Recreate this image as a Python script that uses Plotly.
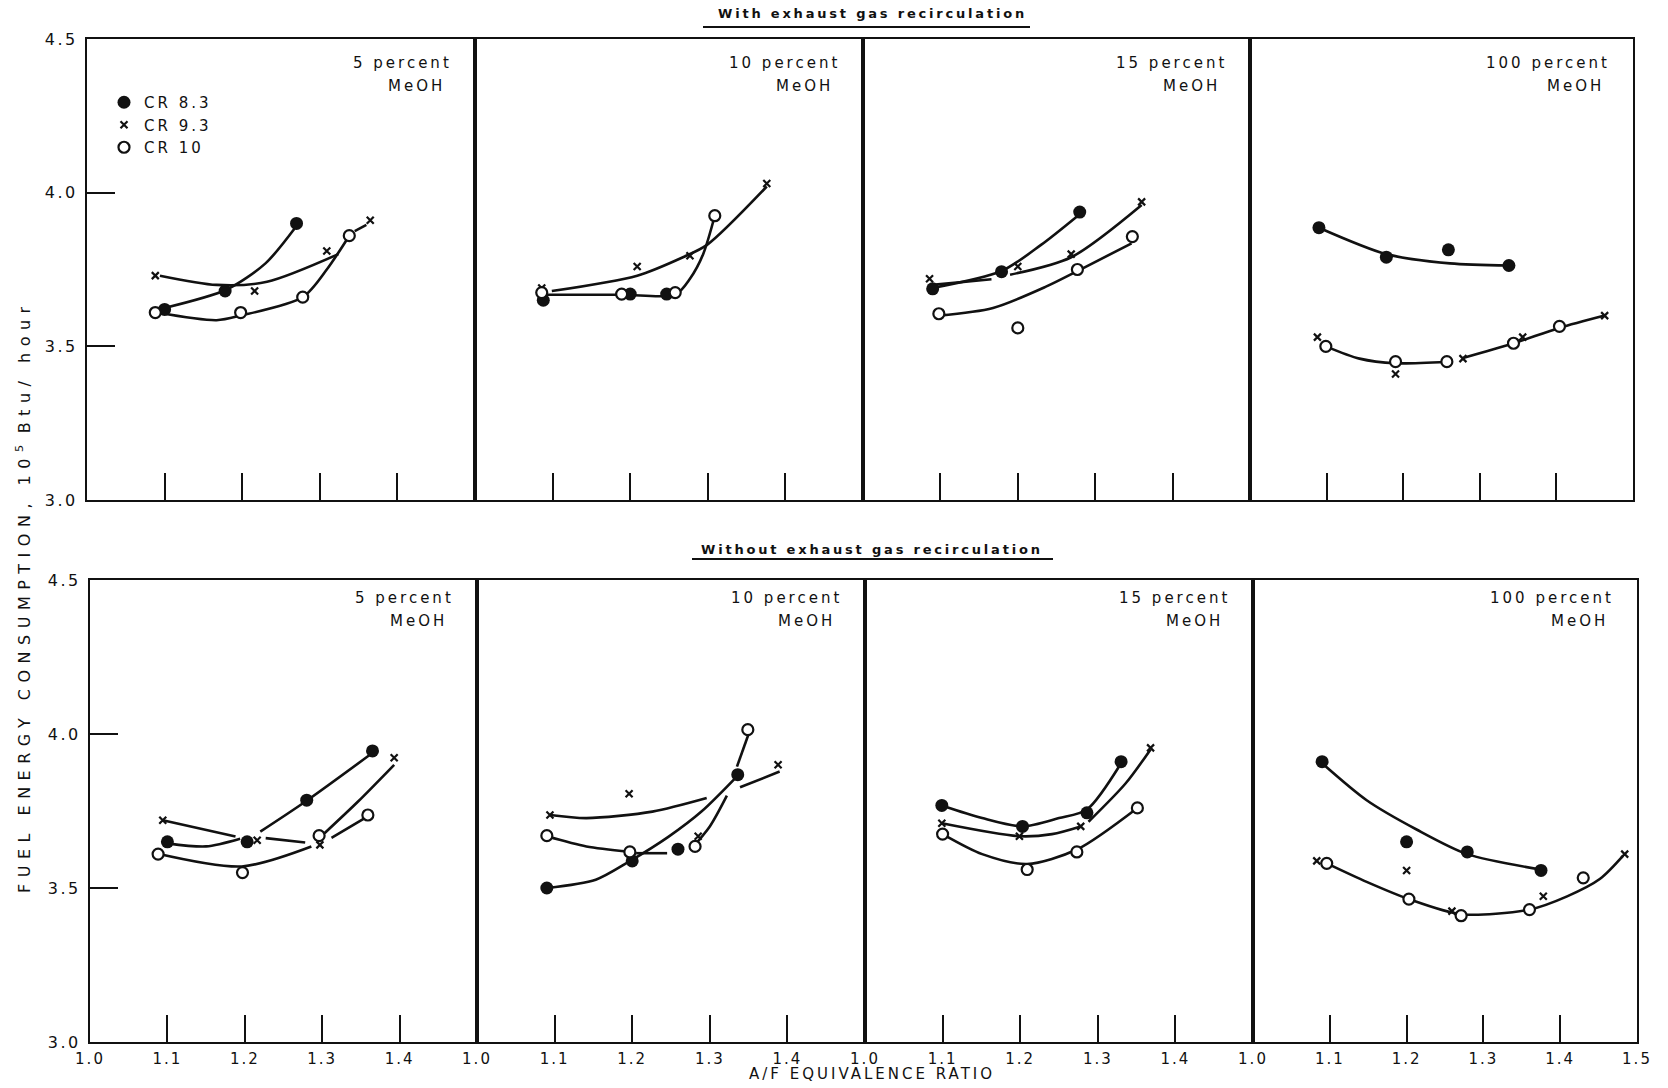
import plotly.graph_objects as go

# ------------------------------------------------------------------ data
PANEL_LABELS = ["5 percent", "10 percent", "15 percent", "100 percent"]
FUEL_LABEL = "MeOH"
SERIES_NAMES = ["CR 8.3", "CR 9.3", "CR 10"]
ROW_TITLES = ["With exhaust gas recirculation", "Without exhaust gas recirculation"]
X_TICKS = [1.0, 1.1, 1.2, 1.3, 1.4, 1.5]
X_TICK_TEXT = ["1.0", "1.1", "1.2", "1.3", "1.4", "1.5"]
Y_TICKS = [3.0, 3.5, 4.0, 4.5]
Y_TICK_TEXT = ["3.0", "3.5", "4.0", "4.5"]
X_TITLE = "A/F EQUIVALENCE RATIO"
Y_TITLE_A = "FUEL ENERGY CONSUMPTION, 10"
Y_TITLE_SUP = "5"
Y_TITLE_B = "Btu/ hour"

# ---- With exhaust gas recirculation -------------------------------------
# 5 percent MeOH : measured points and faired curves (x = A/F ratio, y = 1e5 Btu/h)
EGR5_CR83 = ([1.10, 1.178, 1.27], [3.62, 3.68, 3.90])
EGR5_CR93 = ([1.088, 1.216, 1.309, 1.365], [3.73, 3.68, 3.81, 3.91])
EGR5_CR10 = ([1.088, 1.198, 1.278, 1.338], [3.61, 3.61, 3.66, 3.86])
EGR5_CR83_FIT = ([1.10, 1.18, 1.23, 1.268], [3.625, 3.685, 3.77, 3.885])
EGR5_CR93_FIT = ([1.094, 1.167, 1.232, 1.324], [3.73, 3.70, 3.71, 3.80])
EGR5_CR10_FIT = ([1.09, 1.167, 1.198, 1.278, 1.309, 1.338, None, 1.345, 1.36],
                 [3.61, 3.585, 3.60, 3.66, 3.75, 3.86, None, 3.875, 3.895])

# 10 percent MeOH
EGR10_CR83 = ([1.088, 1.20, 1.247], [3.65, 3.67, 3.67])
EGR10_CR93 = ([1.086, 1.209, 1.277, 1.376], [3.69, 3.76, 3.795, 4.03])
EGR10_CR10 = ([1.086, 1.189, 1.258, 1.309], [3.675, 3.67, 3.675, 3.925])
EGR10_CR83_FIT = ([], [])
EGR10_CR93_FIT = ([1.099, 1.209, 1.268, 1.299, 1.376], [3.68, 3.73, 3.79, 3.83, 4.02])
EGR10_CR10_FIT = ([1.086, 1.19, 1.258, 1.277, 1.294, 1.309],
                  [3.668, 3.668, 3.668, 3.72, 3.80, 3.925])

# 15 percent MeOH
EGR15_CR83 = ([1.09, 1.179, 1.28], [3.687, 3.743, 3.937])
EGR15_CR93 = ([1.086, 1.20, 1.269, 1.36], [3.72, 3.76, 3.80, 3.97])
EGR15_CR10 = ([1.098, 1.20, 1.277, 1.348], [3.606, 3.56, 3.75, 3.857])
EGR15_CR83_FIT = ([1.09, 1.179, 1.23, 1.28], [3.69, 3.745, 3.83, 3.93])
EGR15_CR93_FIT = ([1.09, 1.166, None, 1.19, 1.269, 1.36], [3.70, 3.718, None, 3.733, 3.79, 3.96])
EGR15_CR10_FIT = ([1.098, 1.168, 1.237, 1.277, 1.347], [3.60, 3.625, 3.695, 3.745, 3.835])

# 100 percent MeOH
EGR100_CR83 = ([1.09, 1.178, 1.259, 1.338], [3.886, 3.79, 3.814, 3.763])
EGR100_CR93 = ([1.088, 1.19, 1.278, 1.356, 1.463], [3.53, 3.41, 3.46, 3.53, 3.60])
EGR100_CR10 = ([1.099, 1.19, 1.257, 1.344, 1.404], [3.50, 3.45, 3.45, 3.51, 3.565])
EGR100_CR83_FIT = ([1.09, 1.178, 1.261, 1.338], [3.886, 3.80, 3.77, 3.763])
EGR100_CR93_FIT = ([1.278, 1.344, 1.404, 1.463], [3.462, 3.51, 3.56, 3.60])
EGR100_CR10_FIT = ([1.099, 1.143, 1.19, 1.257], [3.50, 3.46, 3.445, 3.45])

# ---- Without exhaust gas recirculation ----------------------------------
# 5 percent MeOH
NOEGR5_CR83 = ([1.10, 1.203, 1.28, 1.365], [3.65, 3.65, 3.785, 3.945])
NOEGR5_CR93 = ([1.094, 1.216, 1.297, 1.393], [3.72, 3.655, 3.64, 3.923])
NOEGR5_CR10 = ([1.088, 1.197, 1.296, 1.359], [3.61, 3.55, 3.67, 3.737])
NOEGR5_CR83_FIT = ([1.10, 1.15, 1.194, None, 1.22, 1.278, 1.363],
                   [3.645, 3.635, 3.66, None, 3.683, 3.78, 3.935])
NOEGR5_CR93_FIT = ([1.094, 1.188, None, 1.227, 1.278, None, 1.303, 1.346, 1.393],
                   [3.72, 3.667, None, 3.662, 3.648, None, 3.678, 3.78, 3.90])
NOEGR5_CR10_FIT = ([1.085, 1.196, 1.286, None, 1.312, 1.355],
                   [3.613, 3.57, 3.635, None, 3.663, 3.727])

# 10 percent MeOH
NOEGR10_CR83 = ([1.09, 1.20, 1.259, 1.336], [3.50, 3.588, 3.626, 3.868])
NOEGR10_CR93 = ([1.094, 1.196, 1.285, 1.388], [3.737, 3.806, 3.668, 3.90])
NOEGR10_CR10 = ([1.09, 1.197, 1.281, 1.349], [3.67, 3.617, 3.635, 4.014])
NOEGR10_CR83_FIT = ([1.09, 1.153, 1.196, 1.247, 1.29, 1.336],
                    [3.50, 3.527, 3.586, 3.667, 3.75, 3.865])
NOEGR10_CR93_FIT = ([1.094, 1.141, 1.226, 1.296, None, 1.339, 1.39],
                    [3.737, 3.727, 3.748, 3.792, None, 3.827, 3.878])
NOEGR10_CR10_FIT = ([1.091, 1.141, 1.196, None, 1.205, 1.245, None, 1.275, 1.30, 1.322,
                     None, 1.335, 1.35],
                    [3.667, 3.635, 3.618, None, 3.613, 3.613, None, 3.624, 3.70, 3.80,
                     None, 3.894, 4.0])

# 15 percent MeOH
NOEGR15_CR83 = ([1.099, 1.203, 1.286, 1.33], [3.768, 3.70, 3.744, 3.91])
NOEGR15_CR93 = ([1.099, 1.199, 1.278, 1.368], [3.71, 3.668, 3.70, 3.955])
NOEGR15_CR10 = ([1.10, 1.209, 1.273, 1.351], [3.675, 3.56, 3.617, 3.76])
NOEGR15_CR83_FIT = ([1.099, 1.151, 1.203, 1.25, 1.286, 1.33],
                    [3.768, 3.727, 3.70, 3.727, 3.755, 3.905])
NOEGR15_CR93_FIT = ([1.099, 1.199, 1.241, 1.278, None, 1.288, 1.336, 1.368],
                    [3.71, 3.668, 3.675, 3.70, None, 3.715, 3.84, 3.95])
NOEGR15_CR10_FIT = ([1.10, 1.151, 1.209, 1.273, 1.351], [3.675, 3.61, 3.578, 3.625, 3.76])

# 100 percent MeOH
NOEGR100_CR83 = ([1.09, 1.20, 1.279, 1.375], [3.91, 3.65, 3.617, 3.557])
NOEGR100_CR93 = ([1.083, 1.20, 1.259, 1.378, 1.484], [3.588, 3.557, 3.425, 3.473, 3.61])
NOEGR100_CR10 = ([1.096, 1.203, 1.271, 1.36, 1.43], [3.58, 3.464, 3.41, 3.43, 3.533])
NOEGR100_CR83_FIT = ([1.09, 1.148, 1.213, 1.279, 1.375], [3.905, 3.785, 3.69, 3.61, 3.56])
NOEGR100_CR93_FIT = ([], [])
NOEGR100_CR10_FIT = ([1.096, 1.148, 1.203, 1.271, 1.36, 1.409, 1.452, 1.482],
                     [3.58, 3.52, 3.464, 3.415, 3.43, 3.473, 3.53, 3.605])

PANELS = [
    (EGR5_CR83, EGR5_CR93, EGR5_CR10, EGR5_CR83_FIT, EGR5_CR93_FIT, EGR5_CR10_FIT),
    (EGR10_CR83, EGR10_CR93, EGR10_CR10, EGR10_CR83_FIT, EGR10_CR93_FIT, EGR10_CR10_FIT),
    (EGR15_CR83, EGR15_CR93, EGR15_CR10, EGR15_CR83_FIT, EGR15_CR93_FIT, EGR15_CR10_FIT),
    (EGR100_CR83, EGR100_CR93, EGR100_CR10, EGR100_CR83_FIT, EGR100_CR93_FIT, EGR100_CR10_FIT),
    (NOEGR5_CR83, NOEGR5_CR93, NOEGR5_CR10, NOEGR5_CR83_FIT, NOEGR5_CR93_FIT, NOEGR5_CR10_FIT),
    (NOEGR10_CR83, NOEGR10_CR93, NOEGR10_CR10, NOEGR10_CR83_FIT, NOEGR10_CR93_FIT, NOEGR10_CR10_FIT),
    (NOEGR15_CR83, NOEGR15_CR93, NOEGR15_CR10, NOEGR15_CR83_FIT, NOEGR15_CR93_FIT, NOEGR15_CR10_FIT),
    (NOEGR100_CR83, NOEGR100_CR93, NOEGR100_CR10, NOEGR100_CR83_FIT, NOEGR100_CR93_FIT, NOEGR100_CR10_FIT),
]

# ------------------------------------------------------------------ layout
W, H = 1668, 1088
FONT = "DejaVu Sans"
INK = "#111111"
ROW_Y = [(39, 500), (580, 1042)]               # pixel top/bottom of each row
ROW_X = [[87, 475, 863, 1250, 1633],            # pixel panel edges of each row
         [90, 477, 865, 1253, 1637]]
LABEL_Y = [(4.423, 4.348), (4.442, 4.366)]


def sp(text, ls):
    return f'<span style="letter-spacing:{ls}px">{text}</span>'


MARKERS = [
    dict(symbol="circle", size=13, color=INK),
    dict(symbol="x-thin", size=7, color=INK, line=dict(width=2.2, color=INK)),
    dict(symbol="circle", size=11, color="white", line=dict(width=2.2, color=INK)),
]

fig = go.Figure()
annotations = []

for i, panel in enumerate(PANELS):
    r, c = divmod(i, 4)
    n = i + 1
    xn = "x" if n == 1 else f"x{n}"
    yn = "y" if n == 1 else f"y{n}"
    pts, fits = panel[:3], panel[3:]

    for fx, fy in fits:
        if fx:
            fig.add_trace(go.Scatter(x=fx, y=fy, mode="lines", xaxis=xn, yaxis=yn,
                                     line=dict(color=INK, width=2.6, shape="spline", smoothing=0.8),
                                     connectgaps=False, showlegend=False, hoverinfo="skip"))
    for k, (px, py) in enumerate(pts):
        fig.add_trace(go.Scatter(x=px, y=py, mode="markers", xaxis=xn, yaxis=yn,
                                 marker=MARKERS[k], name=sp(SERIES_NAMES[k], 3),
                                 legendgroup=SERIES_NAMES[k], showlegend=(i == 0)))

    left, right = ROW_X[r][c], ROW_X[r][c + 1]
    top, bot = ROW_Y[r]
    bottom_row = r == 1
    if bottom_row:
        tv = X_TICKS if c == 3 else X_TICKS[:-1]
        tt = [sp(t, 2) for t in (X_TICK_TEXT if c == 3 else X_TICK_TEXT[:-1])]
    else:
        tv, tt = X_TICKS[1:-1], X_TICK_TEXT[1:-1]
    xa = dict(domain=[left / W, right / W], range=[1.0, 1.5], anchor=yn,
              automargin=False,
              showline=True, mirror=True, linecolor=INK, linewidth=2.2,
              ticks="inside", ticklen=27, tickwidth=2.2, tickcolor=INK,
              tickmode="array", tickvals=tv, ticktext=tt,
              showticklabels=bottom_row, ticklabelstandoff=2,
              tickfont=dict(family=FONT, size=15, color=INK),
              showgrid=False, zeroline=False, fixedrange=True)
    ya = dict(domain=[1 - bot / H, 1 - top / H], range=[3.0, 4.5], anchor=xn,
              automargin=False,
              showline=True, mirror=True, linecolor=INK, linewidth=2.2,
              showgrid=False, zeroline=False, fixedrange=True)
    if c == 0:
        ya.update(ticks="inside", ticklen=28, tickwidth=2.2, tickcolor=INK,
                  tickmode="array", tickvals=Y_TICKS,
                  ticktext=[sp(t, 2.5) for t in Y_TICK_TEXT],
                  ticklabelstandoff=4,
                  tickfont=dict(family=FONT, size=16, color=INK))
    else:
        ya.update(ticks="", showticklabels=False)
    fig.layout[f"xaxis{'' if n == 1 else n}"] = xa
    fig.layout[f"yaxis{'' if n == 1 else n}"] = ya

    y1, y2 = LABEL_Y[r]
    annotations.append(dict(x=1.473, y=y1, xref=xn, yref=yn, xanchor="right", yanchor="middle",
                            text=sp(PANEL_LABELS[c], 3), showarrow=False,
                            font=dict(family=FONT, size=15, color=INK)))
    annotations.append(dict(x=1.385, y=y2, xref=xn, yref=yn, xanchor="left", yanchor="middle",
                            text=sp(FUEL_LABEL, 3), showarrow=False,
                            font=dict(family=FONT, size=15, color=INK)))

# row titles (underlined by a rule)
for r, (title, ty, uy, ux0, ux1) in enumerate([(ROW_TITLES[0], 13, 27, 703, 1030),
                                                (ROW_TITLES[1], 549, 559, 692, 1053)]):
    annotations.append(dict(x=872 / W, y=1 - ty / H, xref="paper", yref="paper",
                            xanchor="center", yanchor="middle", showarrow=False,
                            text=sp(f"<b>{title}</b>", 2.8),
                            font=dict(family=FONT, size=13, color=INK)))
    fig.add_shape(type="line", xref="paper", yref="paper",
                  x0=ux0 / W, x1=ux1 / W, y0=1 - uy / H, y1=1 - uy / H,
                  line=dict(color=INK, width=1.8))

annotations.append(dict(x=872 / W, y=1 - 1074 / H, xref="paper", yref="paper",
                        xanchor="center", yanchor="middle", showarrow=False,
                        text=sp(X_TITLE, 3), font=dict(family=FONT, size=15, color=INK)))
annotations.append(dict(x=23 / W, y=1 - 597 / H, xref="paper", yref="paper",
                        xanchor="center", yanchor="middle", showarrow=False, textangle=-90,
                        text=sp(Y_TITLE_A, 6.5) + f"<sup>{Y_TITLE_SUP}</sup>" + sp("\u00a0" + Y_TITLE_B, 6.5),
                        font=dict(family=FONT, size=16, color=INK)))

fig.update_layout(
    width=W, height=H, autosize=False,
    margin=dict(l=0, r=0, t=0, b=0, pad=0, autoexpand=False),
    paper_bgcolor="white", plot_bgcolor="white",
    annotations=annotations,
    showlegend=True,
    legend=dict(x=104 / W, y=1 - 86 / H, xanchor="left", yanchor="top",
                bgcolor="rgba(0,0,0,0)", borderwidth=0, tracegroupgap=0,
                font=dict(family=FONT, size=15, color=INK), itemwidth=30,
                traceorder="normal"),
)

fig.write_html("out.html", config={"responsive": False})
